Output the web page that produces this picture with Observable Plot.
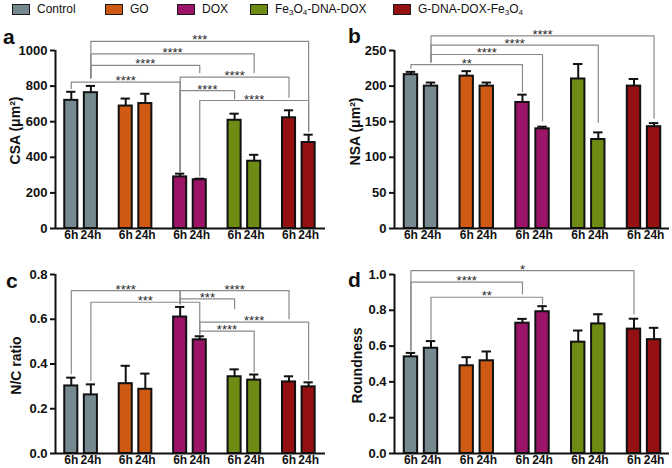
<!DOCTYPE html>
<html>
<head>
<meta charset="utf-8">
<script src="https://cdn.jsdelivr.net/npm/d3@7"></script>
<script src="https://cdn.jsdelivr.net/npm/@observablehq/plot@0.6"></script>
<style>
  html, body { margin: 0; padding: 0; background: #fff; }
  body { width: 672px; height: 468px; position: relative; overflow: hidden;
         font-family: "Liberation Sans", Arial, sans-serif; color: #111; }
  .panel { position: absolute; }
  .panel g[aria-label="y-axis tick label"] { font-size: 13px; font-weight: bold; }
  .letter { position: absolute; font-weight: bold; font-size: 21px; line-height: 1; }
  .leg { position: absolute; top: 2px; display: flex; align-items: center; font-size: 12px; }
  .sw { width: 16px; height: 9px; border: 1.5px solid #1a1a1a; margin-right: 7px; }
  .leg sub { font-size: 8px; vertical-align: -2px; }
</style>
</head>
<body>
<div id="legend"></div>
<div id="pa" class="panel" style="left:0;top:25px"></div>
<div id="pb" class="panel" style="left:336px;top:25px"></div>
<div id="pc" class="panel" style="left:0;top:247px"></div>
<div id="pd" class="panel" style="left:336px;top:247px"></div>
<div class="letter" style="left:3px;top:26px">a</div>
<div class="letter" style="left:348px;top:25px">b</div>
<div class="letter" style="left:6px;top:270px">c</div>
<div class="letter" style="left:348px;top:269px">d</div>
<script>
// ---------------- data ----------------
const groups = ["Control", "GO", "DOX", "Fe3O4-DNA-DOX", "G-DNA-DOX-Fe3O4"];
const groupLabels = ["Control", "GO", "DOX", "Fe<sub>3</sub>O<sub>4</sub>-DNA-DOX", "G-DNA-DOX-Fe<sub>3</sub>O<sub>4</sub>"];
const times = ["6h", "24h"];

// panel a: CSA (µm²)
const csa6 = [720, 688, 290, 608, 622];
const csaErr6 = [48, 42, 18, 37, 42];
const csa24 = [763, 702, 274, 378, 483];
const csaErr24 = [38, 55, 6, 36, 44];
const csaTicks = [0, 200, 400, 600, 800, 1000];
// brackets: [group1, time1, group2, time2, level, leg1 end, leg2 end, label]
const csaBrackets = [
  ["Control", "24h", "G-DNA-DOX-Fe3O4", "24h", 1051, 845, 545, "***"],
  ["Control", "24h", "Fe3O4-DNA-DOX", "24h", 981, 845, 875, "****"],
  ["Control", "24h", "DOX", "24h", 916, 845, 875, "****"],
  ["Control", "6h", "DOX", "6h", 822, 785, 320, "****"],
  ["DOX", "6h", "G-DNA-DOX-Fe3O4", "6h", 850, 320, 738, "****"],
  ["DOX", "6h", "Fe3O4-DNA-DOX", "6h", 775, 320, 728, "****"],
  ["DOX", "24h", "G-DNA-DOX-Fe3O4", "24h", 719, 295, 545, "****"]
];

// panel b: NSA (µm²)
const nsa6 = [216, 214, 177, 210, 200];
const nsaErr6 = [4, 7, 11, 21, 10];
const nsa24 = [200, 200, 140, 125, 143];
const nsaErr24 = [5, 5, 3, 10, 5];
const nsaTicks = [0, 50, 100, 150, 200, 250];
const nsaBrackets = [
  ["Control", "24h", "G-DNA-DOX-Fe3O4", "24h", 270.6, 234, 155, "****"],
  ["Control", "24h", "Fe3O4-DNA-DOX", "24h", 257.5, 234, 149, "****"],
  ["Control", "24h", "DOX", "24h", 244.4, 234, 151, "****"],
  ["Control", "6h", "DOX", "6h", 230.3, 225, 192, "**"]
];

// panel c: N/C ratio
const nc6 = [0.302, 0.312, 0.61, 0.343, 0.32];
const ncErr6 = [0.037, 0.08, 0.045, 0.033, 0.025];
const nc24 = [0.262, 0.287, 0.508, 0.328, 0.298];
const ncErr24 = [0.047, 0.07, 0.016, 0.025, 0.02];
const ncTicks = [0, 0.2, 0.4, 0.6, 0.8];
const ncBrackets = [
  ["Control", "6h", "DOX", "6h", 0.728, 0.356, 0.669, "****"],
  ["Control", "24h", "DOX", "24h", 0.676, 0.326, 0.535, "***"],
  ["DOX", "6h", "Fe3O4-DNA-DOX", "6h", 0.691, 0.669, 0.647, "***"],
  ["DOX", "6h", "G-DNA-DOX-Fe3O4", "6h", 0.728, 0.669, 0.602, "****"],
  ["DOX", "24h", "G-DNA-DOX-Fe3O4", "24h", 0.587, 0.535, 0.33, "****"],
  ["DOX", "24h", "Fe3O4-DNA-DOX", "24h", 0.547, 0.535, 0.365, "****"]
];

// panel d: Roundness
const rd6 = [0.54, 0.49, 0.728, 0.622, 0.695];
const rdErr6 = [0.022, 0.048, 0.024, 0.065, 0.058];
const rd24 = [0.588, 0.518, 0.792, 0.724, 0.636];
const rdErr24 = [0.04, 0.052, 0.031, 0.054, 0.066];
const rdTicks = [0, 0.2, 0.4, 0.6, 0.8, 1.0];
const rdBrackets = [
  ["Control", "6h", "G-DNA-DOX-Fe3O4", "6h", 1.022, 0.575, 0.78, "*"],
  ["Control", "6h", "DOX", "6h", 0.957, 0.575, 0.892, "****"],
  ["Control", "24h", "DOX", "24h", 0.873, 0.64, 0.835, "**"]
];

// ---------------- styles ----------------
const palette = ["#768890", "#cf5a14", "#9c1468", "#6e8c14", "#951010"];
const offsets = {"6h": -0.18, "24h": 0.18};
const halfBar = 0.12;
const halfCap = 0.085;

// legend
const legendLeft = [12, 105, 177, 250, 393];
const legend = document.getElementById("legend");
groups.forEach((g, i) => {
  const el = document.createElement("div");
  el.className = "leg";
  el.style.left = legendLeft[i] + "px";
  el.innerHTML = `<div class="sw" style="background:${palette[i]}"></div><span>${groupLabels[i]}</span>`;
  legend.appendChild(el);
});

function pos(g, t) { return groups.indexOf(g) + offsets[t]; }

function panel(el, opts) {
  const rows = [];
  groups.forEach((g, i) => {
    rows.push({group: g, time: "6h", mean: opts.v6[i], err: opts.e6[i], pos: pos(g, "6h")});
    rows.push({group: g, time: "24h", mean: opts.v24[i], err: opts.e24[i], pos: pos(g, "24h")});
  });
  const pts = [];
  opts.brackets.forEach((b, k) => {
    const x1 = pos(b[0], b[1]), x2 = pos(b[2], b[3]);
    pts.push({k, x: x1, y: b[5]}, {k, x: x1, y: b[4]}, {k, x: x2, y: b[4]}, {k, x: x2, y: b[6]});
  });
  const stars = opts.brackets.map(b => ({x: (pos(b[0], b[1]) + pos(b[2], b[3])) / 2, y: b[4], label: b[7]}));
  const ymax = opts.ticks[opts.ticks.length - 1];
  const chart = Plot.plot({
    width: 336,
    height: opts.height,
    marginLeft: opts.ml,
    marginRight: opts.mr,
    marginTop: opts.mt,
    marginBottom: opts.mb,
    style: {fontFamily: "Liberation Sans, Arial, sans-serif", color: "#111", background: "transparent", overflow: "visible"},
    x: {domain: opts.xdomain, axis: null},
    y: {domain: [0, ymax], axis: null},
    color: {domain: groups, range: palette},
    marks: [
      Plot.line(pts, {x: "x", y: "y", z: "k", stroke: "#8a8a8a", strokeWidth: 1.2}),
      Plot.text(stars, {x: "x", y: "y", text: "label", lineAnchor: "bottom", dy: 3, fontSize: 13, fill: "#2a2a2a"}),
      Plot.ruleX(rows, {x: "pos", y1: "mean", y2: d => d.mean + d.err, stroke: "#111", strokeWidth: 2}),
      Plot.ruleY(rows, {y: d => d.mean + d.err, x1: d => d.pos - halfCap, x2: d => d.pos + halfCap, stroke: "#111", strokeWidth: 2}),
      Plot.rectY(rows, {x1: d => d.pos - halfBar, x2: d => d.pos + halfBar, y1: 0, y2: "mean", fill: "group", stroke: "#111", strokeWidth: 2}),
      Plot.ruleY([0], {stroke: "#111", strokeWidth: 2}),
      Plot.ruleX([opts.xdomain[0]], {y1: 0, y2: ymax, stroke: "#111", strokeWidth: 2}),
      Plot.axisY({ticks: opts.ticks, tickSize: 5, tickPadding: 3, strokeWidth: 2, fontSize: 13, fontWeight: "bold",
                  tickFormat: opts.fmt, label: null}),
      Plot.text(rows, {x: "pos", text: "time", frameAnchor: "bottom", lineAnchor: "top", dy: 2, fontSize: 12, fontWeight: "bold"}),
      Plot.text([opts.title], {frameAnchor: "left", textAnchor: "middle", text: d => d, rotate: -90,
                               dx: opts.tdx, dy: opts.tdy, fontSize: 14, fontWeight: "bold"})
    ]
  });
  document.getElementById(el).appendChild(chart);
}

const topH = 222, botH = 221;
panel("pa", {v6: csa6, e6: csaErr6, v24: csa24, e24: csaErr24, ticks: csaTicks, brackets: csaBrackets,
  fmt: d3.format("d"), title: "CSA (μm²)", height: topH, ml: 55, mr: 11, mt: 25, mb: 19,
  xdomain: [-0.47, 4.49], tdx: -40, tdy: -9});
panel("pb", {v6: nsa6, e6: nsaErr6, v24: nsa24, e24: nsaErr24, ticks: nsaTicks, brackets: nsaBrackets,
  fmt: d3.format("d"), title: "NSA (μm²)", height: topH, ml: 58, mr: 3, mt: 25, mb: 19,
  xdomain: [-0.475, 4.457], tdx: -38.5, tdy: -8});
panel("pc", {v6: nc6, e6: ncErr6, v24: nc24, e24: ncErr24, ticks: ncTicks, brackets: ncBrackets,
  fmt: d3.format(".1f"), title: "N/C ratio", height: botH, ml: 55, mr: 11, mt: 27, mb: 15,
  xdomain: [-0.47, 4.49], tdx: -39, tdy: 1.5});
panel("pd", {v6: rd6, e6: rdErr6, v24: rd24, e24: rdErr24, ticks: rdTicks, brackets: rdBrackets,
  fmt: d3.format(".1f"), title: "Roundness", height: botH, ml: 58, mr: 3, mt: 27, mb: 15,
  xdomain: [-0.475, 4.457], tdx: -37, tdy: 1.5});
</script>
</body>
</html>
